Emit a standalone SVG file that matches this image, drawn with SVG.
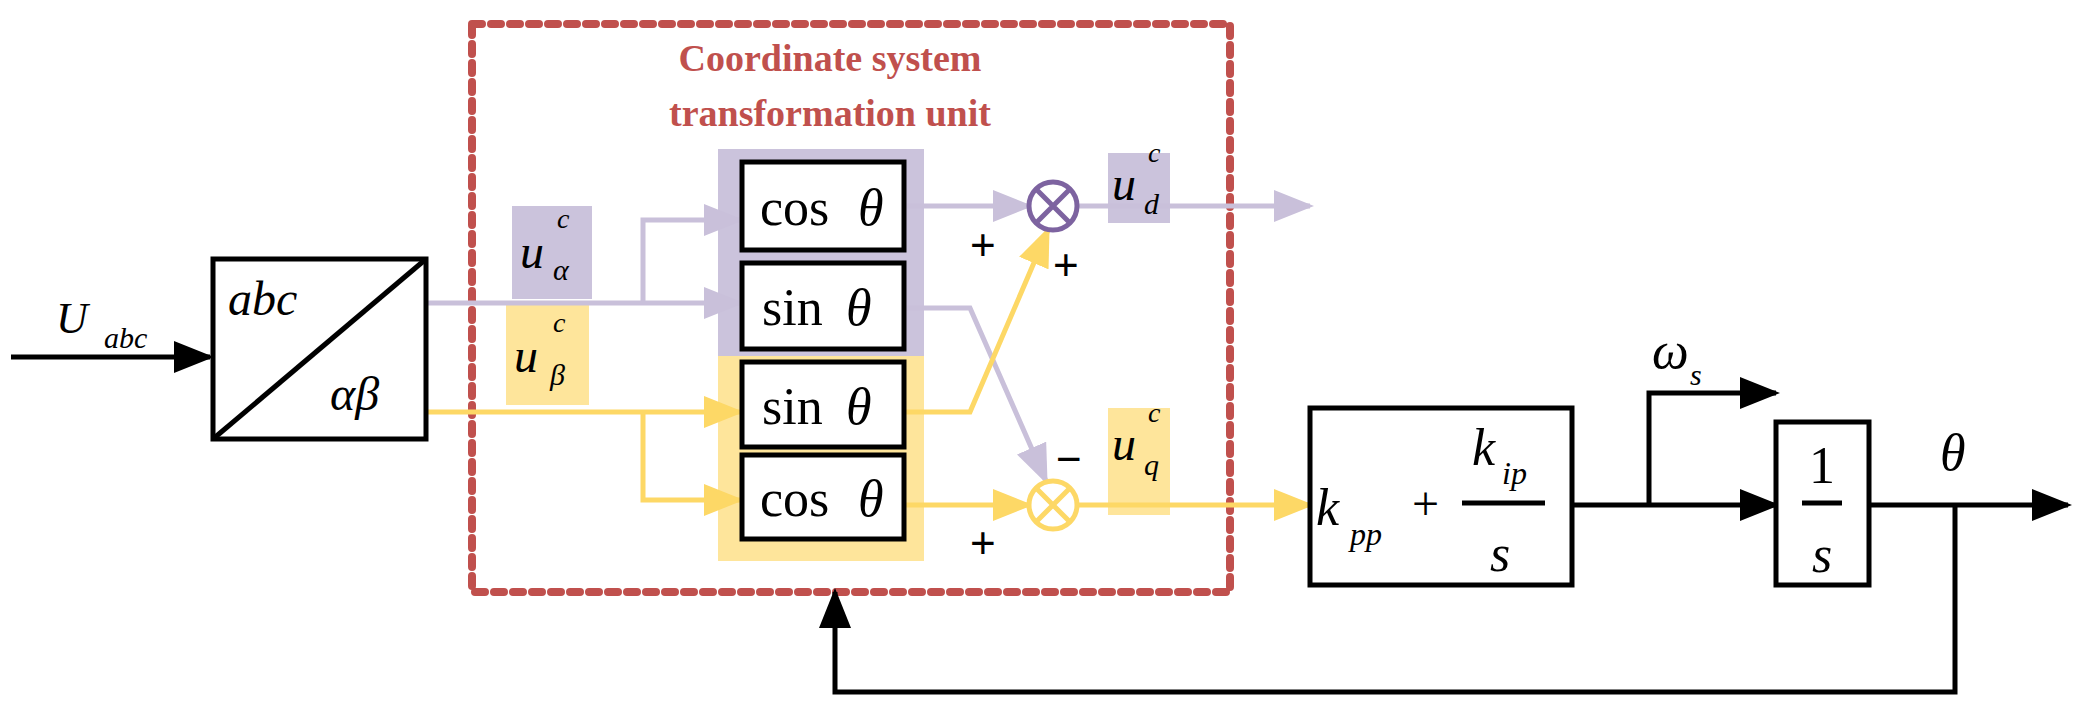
<svg xmlns="http://www.w3.org/2000/svg" width="2075" height="715" viewBox="0 0 2075 715">
<style>
.m{font-family:"Liberation Serif",serif;font-style:italic;fill:#000}
.r{font-family:"Liberation Serif",serif;fill:#000}
.blk{fill:#fff;stroke:#000;stroke-width:5}
.k{stroke:#000;stroke-width:5;fill:none}
.p{stroke:#c9c0da;stroke-width:5;fill:none}
.y{stroke:#fdd866;stroke-width:5;fill:none}
</style>
<defs>
<marker id="ak" markerWidth="10" markerHeight="8" refX="9" refY="4" orient="auto" markerUnits="userSpaceOnUse" viewBox="0 0 10 8"><path d="M0,0L10,4L0,8z" fill="#000"/></marker>
<marker id="ap" viewBox="0 0 10 8" markerWidth="40" markerHeight="32" refX="9" refY="4" orient="auto" markerUnits="userSpaceOnUse"><path d="M0,0L10,4L0,8z" fill="#c9c0da"/></marker>
<marker id="ay" viewBox="0 0 10 8" markerWidth="40" markerHeight="32" refX="9" refY="4" orient="auto" markerUnits="userSpaceOnUse"><path d="M0,0L10,4L0,8z" fill="#fdd866"/></marker>
<marker id="ab" viewBox="0 0 10 8" markerWidth="40" markerHeight="32" refX="9" refY="4" orient="auto" markerUnits="userSpaceOnUse"><path d="M0,0L10,4L0,8z" fill="#000"/></marker>
</defs>
<rect width="2075" height="715" fill="#fff"/>
<g id="unit">
<rect x="472" y="24" width="758" height="568" fill="none" stroke="#c0504d" stroke-width="8" stroke-dasharray="10 9" stroke-linecap="round"/>
<text x="830" y="71" text-anchor="middle" font-family="Liberation Serif,serif" font-weight="bold" font-size="38" fill="#c0504d">Coordinate system</text>
<text x="830" y="126" text-anchor="middle" font-family="Liberation Serif,serif" font-weight="bold" font-size="38" fill="#c0504d">transformation unit</text>
</g>
<g id="bg">
<rect x="718" y="149" width="206" height="207" fill="#cbc3dc"/>
<rect x="718" y="356" width="206" height="205" fill="#fee59b"/>
<rect x="512" y="206" width="80" height="93" fill="#cbc3dc"/>
<rect x="506" y="303" width="83" height="102" fill="#fee59b"/>
<rect x="1108" y="153" width="62" height="70" fill="#cbc3dc"/>
<rect x="1108" y="408" width="62" height="107" fill="#fee59b"/>
</g>
<g id="connectors">
<line class="k" x1="11" y1="357" x2="210" y2="357" marker-end="url(#ab)"/>
<path class="p" d="M426,303H740" marker-end="url(#ap)"/>
<path class="p" d="M643,303V220H740" marker-end="url(#ap)"/>
<path class="y" d="M426,412H740" marker-end="url(#ay)"/>
<path class="y" d="M643,412V500H740" marker-end="url(#ay)"/>
<path class="p" d="M904,206H1029" marker-end="url(#ap)"/>
<path class="y" d="M904,505H1029" marker-end="url(#ay)"/>
<path class="p" d="M904,308H970L1046,481" marker-end="url(#ap)"/>
<path class="y" d="M904,412H970L1048,230" marker-end="url(#ay)"/>
<path class="p" d="M1077,206H1310" marker-end="url(#ap)"/>
<path class="y" d="M1077,505H1310" marker-end="url(#ay)"/>
<path class="k" d="M1572,505H1776" marker-end="url(#ab)"/>
<path class="k" d="M1649,505V393H1776" marker-end="url(#ab)"/>
<path class="k" d="M1869,505H2068" marker-end="url(#ab)"/>
<path class="k" d="M1955,505V692H835V592" marker-end="url(#ab)"/>
</g>
<g id="input">
<text class="m" x="56" y="333" font-size="44">U</text><text class="m" x="104" y="348" font-size="30">abc</text>
</g>
<g id="abc">
<rect class="blk" x="213" y="259" width="213" height="180"/>
<line class="k" x1="213" y1="439" x2="426" y2="259"/>
<text class="m" x="228" y="315" font-size="48">abc</text>
<text class="m" x="330" y="410" font-size="48">αβ</text>
</g>
<g id="ualpha"><text class="m" x="520" y="268" font-size="48">u</text><text class="m" x="557" y="228" font-size="28">c</text><text class="m" x="553" y="280" font-size="30">α</text></g>
<g id="ubeta"><text class="m" x="514" y="372" font-size="48">u</text><text class="m" x="553" y="332" font-size="28">c</text><text class="m" x="550" y="385" font-size="30">β</text></g>
<g id="cos1"><rect class="blk" x="742" y="162" width="162" height="88"/><text class="r" x="760" y="225" font-size="52">cos</text><text class="m" x="858" y="225" font-size="52">θ</text></g>
<g id="sin1"><rect class="blk" x="742" y="263" width="162" height="86"/><text class="r" x="762" y="325" font-size="52">sin</text><text class="m" x="846" y="325" font-size="52">θ</text></g>
<g id="sin2"><rect class="blk" x="742" y="362" width="162" height="85"/><text class="r" x="762" y="424" font-size="52">sin</text><text class="m" x="846" y="424" font-size="52">θ</text></g>
<g id="cos2"><rect class="blk" x="742" y="455" width="162" height="84"/><text class="r" x="760" y="516" font-size="52">cos</text><text class="m" x="858" y="516" font-size="52">θ</text></g>
<g id="mul1"><circle cx="1053" cy="206" r="24" fill="#fff" stroke="#7d63a0" stroke-width="5"/><path d="M1036,189L1070,223M1070,189L1036,223" stroke="#7d63a0" stroke-width="5"/></g>
<g id="mul2"><circle cx="1053" cy="505" r="24" fill="#fff" stroke="#fdd866" stroke-width="5"/><path d="M1036,488L1070,522M1070,488L1036,522" stroke="#fdd866" stroke-width="5"/></g>
<g id="signs" font-family="Liberation Sans,sans-serif" font-size="44" fill="#000">
<text x="970" y="260">+</text><text x="1053" y="280">+</text><text x="1056" y="474">−</text><text x="970" y="558">+</text>
</g>
<g id="ud"><text class="m" x="1112" y="200" font-size="48">u</text><text class="m" x="1148" y="162" font-size="28">c</text><text class="m" x="1144" y="214" font-size="30">d</text></g>
<g id="uq"><text class="m" x="1112" y="460" font-size="48">u</text><text class="m" x="1148" y="422" font-size="28">c</text><text class="m" x="1144" y="475" font-size="30">q</text></g>
<g id="pi">
<rect class="blk" x="1310" y="408" width="262" height="177"/>
<text class="m" x="1316" y="525" font-size="52">k</text><text class="m" x="1350" y="545" font-size="32">pp</text>
<text class="r" x="1412" y="520" font-size="48">+</text>
<line class="k" x1="1462" y1="503" x2="1545" y2="503"/>
<text class="m" x="1472" y="465" font-size="52">k</text><text class="m" x="1502" y="484" font-size="32">ip</text>
<text class="m" x="1490" y="571" font-size="52">s</text>
</g>
<g id="int">
<rect class="blk" x="1776" y="422" width="93" height="163"/>
<text class="r" x="1822" y="483" text-anchor="middle" font-size="52">1</text>
<line class="k" x1="1802" y1="503" x2="1842" y2="503"/>
<text class="m" x="1822" y="572" text-anchor="middle" font-size="52">s</text>
</g>
<g id="omega"><text class="m" x="1652" y="368" font-size="52">ω</text><text class="m" x="1690" y="385" font-size="30">s</text></g>
<g id="theta"><text class="m" x="1940" y="470" font-size="52">θ</text></g>
</svg>
